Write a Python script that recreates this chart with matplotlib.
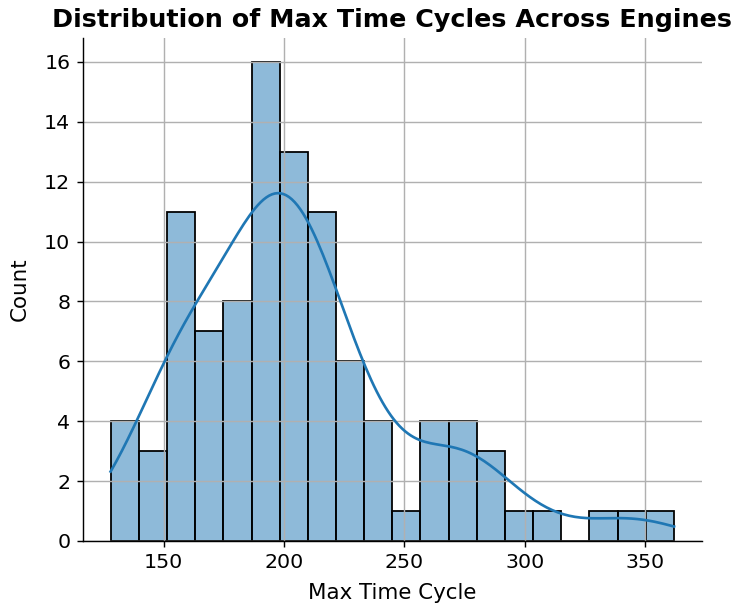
import numpy as np
import matplotlib
matplotlib.use("Agg")
import matplotlib.pyplot as plt
import seaborn as sns

# Histogram of max time cycles (20 bins from 128 to 362)
cycle_min = 128
cycle_max = 362
n_bins = 20
counts = [4, 3, 11, 7, 8, 16, 13, 11, 6, 4, 1, 4, 4, 3, 1, 1, 0, 1, 1, 1]

edges = np.linspace(cycle_min, cycle_max, n_bins + 1)
centers = (edges[:-1] + edges[1:]) / 2
values = np.repeat(centers, counts)

fig = plt.figure(figsize=(734 / 128, 613 / 128), dpi=128)
ax = fig.add_axes([82.7 / 734, 1 - 541 / 613, (702 - 82.7) / 734, (541 - 38) / 613])

sns.histplot(values, bins=edges, kde=True, edgecolor="black", color="#1f77b4",
             alpha=0.5, linewidth=1.0,
             kde_kws={"cut": 0.35, "bw_adjust": 0.92}, ax=ax)
ax.lines[0].set_linewidth(1.5)

ax.set_title("Distribution of Max Time Cycles Across Engines", fontsize=14.3,
             fontweight="bold", pad=6)
ax.set_xlabel("Max Time Cycle", fontsize=12, labelpad=6)
ax.set_ylabel("Count", fontsize=12, labelpad=8)
ax.tick_params(labelsize=11.5)
ax.grid(True)
ax.set_xlim(116.3, 373.7)
ax.set_ylim(0, 16.8)
sns.despine(ax=ax)

fig.savefig("out.png", dpi=128)
